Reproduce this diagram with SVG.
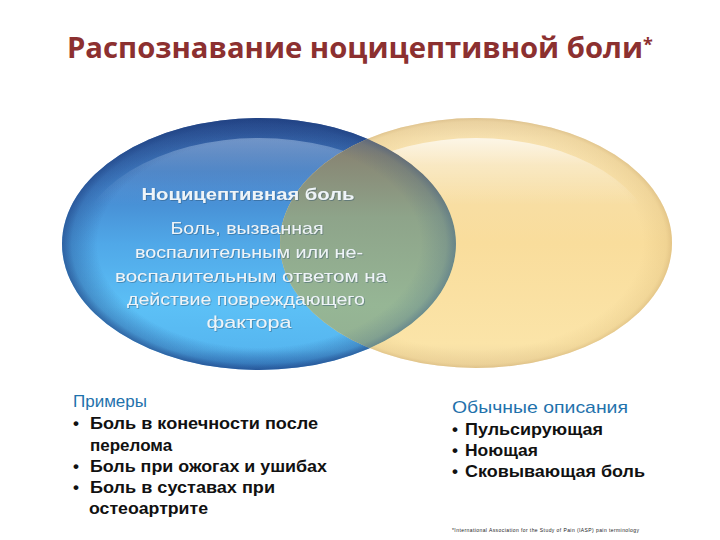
<svg xmlns="http://www.w3.org/2000/svg" width="720" height="540" viewBox="0 0 720 540">
<defs>
<style>
.title{font-family:"Open Sans","Liberation Sans",sans-serif;font-weight:bold;fill:#8c3030}
.bt{font-family:"Liberation Sans",Arial,sans-serif;font-size:17px;fill:#eef4f8;text-anchor:middle}
.hd{font-family:"Liberation Sans",Arial,sans-serif;font-size:17px;fill:#1f72ac}
.bl{font-family:"Liberation Sans",Arial,sans-serif;font-size:17px;font-weight:bold;fill:#111}
.fn{font-family:"Liberation Sans",Arial,sans-serif;font-size:5px;fill:#222}
</style>
<linearGradient id="gBlue" x1="0" y1="0" x2="0" y2="1">
<stop offset="0" stop-color="#2a4b8e"/>
<stop offset="0.1" stop-color="#3664a8"/>
<stop offset="0.28" stop-color="#4588cf"/>
<stop offset="0.5" stop-color="#50a8e8"/>
<stop offset="0.75" stop-color="#5cc0f6"/>
<stop offset="0.92" stop-color="#56b6f0"/>
<stop offset="1" stop-color="#3c8ad0"/>
</linearGradient>
<radialGradient id="gRimB" cx="0.5" cy="0.5" r="0.5">
<stop offset="0.82" stop-color="#1d3f80" stop-opacity="0"/>
<stop offset="0.95" stop-color="#1d3f80" stop-opacity="0.22"/>
<stop offset="1" stop-color="#1d3f80" stop-opacity="0.5"/>
</radialGradient>
<linearGradient id="gYel" x1="0" y1="0" x2="0" y2="1">
<stop offset="0" stop-color="#efd9ad"/>
<stop offset="0.08" stop-color="#f6e0ae"/>
<stop offset="0.5" stop-color="#f9dd9c"/>
<stop offset="0.9" stop-color="#fbe4a8"/>
<stop offset="1" stop-color="#f0d8a2"/>
</linearGradient>
<radialGradient id="gRimY" cx="0.5" cy="0.5" r="0.5">
<stop offset="0.85" stop-color="#d8b878" stop-opacity="0"/>
<stop offset="0.97" stop-color="#d8b878" stop-opacity="0.25"/>
<stop offset="1" stop-color="#c9a66a" stop-opacity="0.45"/>
</radialGradient>
<linearGradient id="gHi" x1="0" y1="0" x2="0" y2="1">
<stop offset="0" stop-color="#ffffff" stop-opacity="0.7"/>
<stop offset="0.12" stop-color="#ffffff" stop-opacity="0.3"/>
<stop offset="0.3" stop-color="#ffffff" stop-opacity="0"/>
</linearGradient>
<linearGradient id="gHiB" x1="0" y1="0" x2="0" y2="1">
<stop offset="0" stop-color="#cfe6ff" stop-opacity="0.4"/>
<stop offset="0.15" stop-color="#cfe6ff" stop-opacity="0.12"/>
<stop offset="0.3" stop-color="#cfe6ff" stop-opacity="0"/>
</linearGradient>
<linearGradient id="gLens" x1="0" y1="0" x2="0" y2="1">
<stop offset="0" stop-color="#727480"/>
<stop offset="0.15" stop-color="#888674"/>
<stop offset="0.4" stop-color="#8ea48a"/>
<stop offset="0.75" stop-color="#96b695"/>
<stop offset="0.95" stop-color="#92b092"/>
<stop offset="1" stop-color="#809c8c"/>
</linearGradient>
<clipPath id="clipBlue"><ellipse cx="259" cy="244" rx="197" ry="126"/></clipPath>
<filter id="sh" x="-10%" y="-30%" width="120%" height="160%">
<feDropShadow dx="0.8" dy="0.8" stdDeviation="0.7" flood-color="#2a4a66" flood-opacity="0.5"/>
</filter>
</defs>
<rect width="720" height="540" fill="#ffffff"/>

<g id="title">
<text class="title" x="67" y="58" font-size="29" textLength="576" lengthAdjust="spacingAndGlyphs">Распознавание ноцицептивной боли</text>
<text class="title" x="643" y="51" font-size="18">*</text>
</g>

<g id="blue-circle">
<ellipse cx="259" cy="244" rx="197" ry="126" fill="url(#gBlue)"/>
<ellipse cx="259" cy="244" rx="197" ry="126" fill="url(#gRimB)"/>
<ellipse cx="259" cy="250" rx="182" ry="112" fill="url(#gHiB)"/>
</g>

<g id="yellow-circle">
<ellipse cx="476" cy="243" rx="196" ry="125" fill="url(#gYel)"/>
<ellipse cx="476" cy="243" rx="196" ry="125" fill="url(#gRimY)"/>
<ellipse cx="476" cy="250" rx="180" ry="112" fill="url(#gHi)"/>
</g>

<g id="overlap" clip-path="url(#clipBlue)">
<ellipse cx="476" cy="243" rx="196" ry="125" fill="url(#gLens)"/>
<ellipse cx="259" cy="244" rx="197" ry="126" fill="url(#gRimB)" opacity="0.7"/>
</g>

<g id="blue-text" filter="url(#sh)">
<text class="bt" x="248" y="200" font-weight="bold" textLength="213" lengthAdjust="spacingAndGlyphs">Ноцицептивная боль</text>
<text class="bt" x="247" y="234" textLength="153" lengthAdjust="spacingAndGlyphs">Боль, вызванная</text>
<text class="bt" x="249" y="258" textLength="228" lengthAdjust="spacingAndGlyphs">воспалительным или не-</text>
<text class="bt" x="251" y="282" textLength="272" lengthAdjust="spacingAndGlyphs">воспалительным ответом на</text>
<text class="bt" x="246" y="305" textLength="238" lengthAdjust="spacingAndGlyphs">действие повреждающего</text>
<text class="bt" x="249" y="328" textLength="85" lengthAdjust="spacingAndGlyphs">фактора</text>
</g>

<g id="examples">
<text class="hd" x="73" y="407">Примеры</text>
<text class="bl" x="73" y="429">•</text>
<text class="bl" x="90" y="429" textLength="228" lengthAdjust="spacingAndGlyphs">Боль в конечности после</text>
<text class="bl" x="90" y="451">перелома</text>
<text class="bl" x="73" y="472">•</text>
<text class="bl" x="90" y="472" textLength="237" lengthAdjust="spacingAndGlyphs">Боль при ожогах и ушибах</text>
<text class="bl" x="73" y="493">•</text>
<text class="bl" x="90" y="493" textLength="185" lengthAdjust="spacingAndGlyphs">Боль в суставах при</text>
<text class="bl" x="89" y="514" textLength="119" lengthAdjust="spacingAndGlyphs">остеоартрите</text>
</g>

<g id="descriptions">
<text class="hd" x="452" y="413" textLength="176" lengthAdjust="spacingAndGlyphs">Обычные описания</text>
<text class="bl" x="452" y="435">•</text>
<text class="bl" x="465" y="435" textLength="138" lengthAdjust="spacingAndGlyphs">Пульсирующая</text>
<text class="bl" x="452" y="456">•</text>
<text class="bl" x="465" y="456" textLength="73" lengthAdjust="spacingAndGlyphs">Ноющая</text>
<text class="bl" x="452" y="477">•</text>
<text class="bl" x="465" y="477" textLength="180" lengthAdjust="spacingAndGlyphs">Сковывающая боль</text>
</g>

<g id="footnote">
<text class="fn" x="452" y="532" textLength="187">*International Association for the Study of Pain (IASP) pain terminology</text>
</g>
</svg>
